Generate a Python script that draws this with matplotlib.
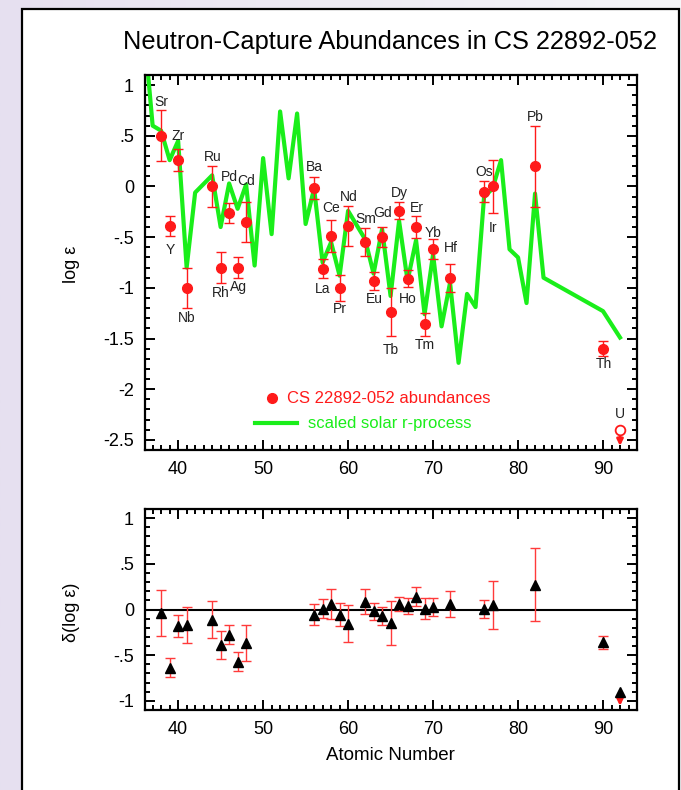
import numpy as np
import matplotlib
matplotlib.use('Agg')
from matplotlib import pyplot as plt
from matplotlib.patches import Rectangle
from matplotlib.ticker import MultipleLocator, FuncFormatter

plt.rcParams['font.family'] = ['Liberation Sans', 'DejaVu Sans']
plt.rcParams['font.size'] = 13

# observed abundances (log eps) for CS 22892-052
elem = ['Sr', 'Y', 'Zr', 'Nb', 'Ru', 'Rh', 'Pd', 'Ag', 'Cd', 'Ba', 'La', 'Ce', 'Pr', 'Nd',
        'Sm', 'Eu', 'Gd', 'Tb', 'Dy', 'Ho', 'Er', 'Tm', 'Yb', 'Hf', 'Os', 'Ir', 'Pb', 'Th']
z_obs = [38, 39, 40, 41, 44, 45, 46, 47, 48, 56, 57, 58, 59, 60,
         62, 63, 64, 65, 66, 67, 68, 69, 70, 72, 76, 77, 82, 90]
logeps = [0.50, -0.39, 0.26, -1.00, 0.00, -0.80, -0.26, -0.80, -0.35, -0.015, -0.81, -0.49, -1.00, -0.39,
          -0.545, -0.93, -0.50, -1.24, -0.24, -0.91, -0.40, -1.36, -0.62, -0.90, -0.05, 0.00, 0.20, -1.60]
logeps_err = [0.25, 0.10, 0.11, 0.20, 0.20, 0.15, 0.10, 0.10, 0.20, 0.105, 0.09, 0.16, 0.13, 0.20,
              0.14, 0.09, 0.10, 0.24, 0.085, 0.085, 0.11, 0.115, 0.10, 0.14, 0.10, 0.26, 0.40, 0.075]
# label positions (log eps) for the element names
lab_y = [0.83, -0.63, 0.495, -1.30, 0.29, -1.05, 0.09, -0.99, 0.05, 0.19, -1.01, -0.21, -1.21, -0.10,
         -0.32, -1.11, -0.26, -1.61, -0.06, -1.11, -0.21, -1.56, -0.46, -0.61, 0.145, -0.41, 0.69, -1.755]

# uranium upper limit
u_z = 92
u_lim = -2.40
u_lab_y = -2.24
u_delta = -0.905

# scaled solar r-process curve
z_solar = [36, 37, 38, 39, 40, 41, 42, 44, 45, 46, 47, 48, 49, 50, 51, 52, 53, 54, 55, 56, 57, 58, 59, 60,
           62, 63, 64, 65, 66, 67, 68, 69, 70, 71, 72, 73, 74, 75, 76, 77, 78, 79, 80, 81, 82, 83, 90, 92]
solar = [1.54, 0.60, 0.55, 0.26, 0.45, -0.80, -0.06, 0.11, -0.40, 0.03, -0.22, 0.02, -0.78, 0.28, -0.47,
         0.74, 0.08, 0.72, -0.37, -0.02, -0.75, -0.55, -0.88, -0.24, -0.52, -0.86, -0.42, -1.08, -0.34,
         -0.93, -0.53, -1.26, -0.67, -1.38, -0.95, -1.74, -1.06, -1.19, -0.105, -0.02, 0.26, -0.62, -0.70,
         -1.15, -0.07, -0.90, -1.23, -1.49]

# differences (observed - solar)
delta = [-0.04, -0.635, -0.185, -0.17, -0.11, -0.39, -0.275, -0.57, -0.365, -0.055, 0.01, 0.06, -0.055, -0.155,
         0.087, -0.02, -0.07, -0.15, 0.06, 0.04, 0.14, 0.007, 0.025, 0.06, 0.007, 0.05, 0.27, -0.36]
delta_err = [0.25, 0.105, 0.12, 0.20, 0.20, 0.15, 0.10, 0.10, 0.20, 0.11, 0.10, 0.16, 0.13, 0.20,
             0.14, 0.09, 0.10, 0.24, 0.08, 0.09, 0.105, 0.115, 0.10, 0.14, 0.10, 0.26, 0.40, 0.07]

W, H = 681, 790
fig = plt.figure(figsize=(W / 100, H / 100), dpi=100)

# background gradient + white frame
bg = fig.add_axes([0, 0, 1, 1], zorder=-10)
grad = np.linspace(0, 1, 256)[None, :]
bg.imshow(grad, aspect='auto', extent=[0, 1, 0, 1],
          cmap=matplotlib.colors.LinearSegmentedColormap.from_list('bg', ['#e6e0f0', '#f6f6f8']))
bg.set_xlim(0, 1)
bg.set_ylim(0, 1)
bg.axis('off')
bg.add_patch(Rectangle((22 / W, -0.05), (679 - 22) / W, 1.05 - 9 / H, transform=bg.transAxes,
                       facecolor='white', edgecolor='black', lw=1.6))

red = '#ff1a1a'
green = '#1aee1a'


def style_axes(ax, ymin, ymax):
    ax.set_xlim(36.1, 94.0)
    ax.set_ylim(ymin, ymax)
    ax.xaxis.set_major_locator(MultipleLocator(10))
    ax.xaxis.set_minor_locator(MultipleLocator(1))
    ax.yaxis.set_major_locator(MultipleLocator(0.5))
    ax.yaxis.set_minor_locator(MultipleLocator(0.1))
    ax.tick_params(which='both', direction='in', top=True, right=True, width=1.4)
    ax.tick_params(which='major', length=7, labelsize=13, pad=8)
    ax.tick_params(which='minor', length=3.5)
    ax.yaxis.set_major_formatter(FuncFormatter(
        lambda v, p: ('%g' % round(v, 2)).replace('0.', '.') if v != 0 else '0'))
    for s in ax.spines.values():
        s.set_linewidth(1.6)


def down_arrow(ax, z, y0, y1):
    ax.annotate('', xy=(z, y1), xytext=(z, y0),
                arrowprops=dict(arrowstyle='-|>', color=red, lw=2.0, mutation_scale=9,
                                shrinkA=0, shrinkB=0), zorder=2)


# ---- top panel
ax1 = fig.add_axes([145 / W, 1 - 450 / H, 492 / W, 375 / H])
style_axes(ax1, -2.6, 1.1)
ax1.plot(z_solar, solar, color=green, lw=3, zorder=2)
ax1.errorbar(z_obs, logeps, yerr=logeps_err, fmt='o', color=red, ms=7, ecolor=red,
             elinewidth=1.0, capsize=3.4, capthick=1.0, zorder=3)
for z, name, ly in zip(z_obs, elem, lab_y):
    ax1.text(z + 0.05, ly, name, ha='center', va='center', fontsize=10, color='#222222')

down_arrow(ax1, u_z, u_lim, u_lim - 0.16)
ax1.plot([u_z], [u_lim], 'o', mfc='white', mec=red, ms=7, mew=1.3, zorder=4)
ax1.text(u_z, u_lab_y, 'U', ha='center', va='center', fontsize=10, color='#222222')

# hand-drawn legend
ax1.plot([0.2575], [0.138], 'o', color=red, ms=7, transform=ax1.transAxes)
ax1.text(0.288, 0.138, 'CS 22892-052 abundances', color=red, fontsize=12,
         va='center', transform=ax1.transAxes)
ax1.plot([0.2236, 0.3083], [0.0712, 0.0712], color=green, lw=3, transform=ax1.transAxes)
ax1.text(0.3313, 0.0712, 'scaled solar r-process', color=green, fontsize=12,
         va='center', transform=ax1.transAxes)

# ---- bottom panel
ax2 = fig.add_axes([145 / W, 1 - 710 / H, 492 / W, 201 / H])
style_axes(ax2, -1.1, 1.1)
ax2.axhline(0, color='black', lw=1.5, zorder=1)
ax2.errorbar(z_obs, delta, yerr=delta_err, fmt='^', color='black', ms=7, ecolor='#ff3a3a',
             elinewidth=1.0, capsize=3.4, capthick=1.0, zorder=3)
down_arrow(ax2, u_z, u_delta, u_delta - 0.15)
ax2.plot([u_z], [u_delta], '^', color='black', ms=7, zorder=4)

fig.text(390 / W, 1 - 42 / H, 'Neutron-Capture Abundances in CS 22892-052',
         ha='center', va='center', fontsize=18.3)
fig.text(72 / W, 1 - 264 / H, 'log ε', rotation=90, ha='center', va='center', fontsize=13)
fig.text(72 / W, 1 - 612 / H, 'δ(log ε)', rotation=90, ha='center', va='center', fontsize=13)
fig.text(390 / W, 1 - 755 / H, 'Atomic Number', ha='center', va='center', fontsize=13.5)

fig.savefig('out.png', dpi=100)
